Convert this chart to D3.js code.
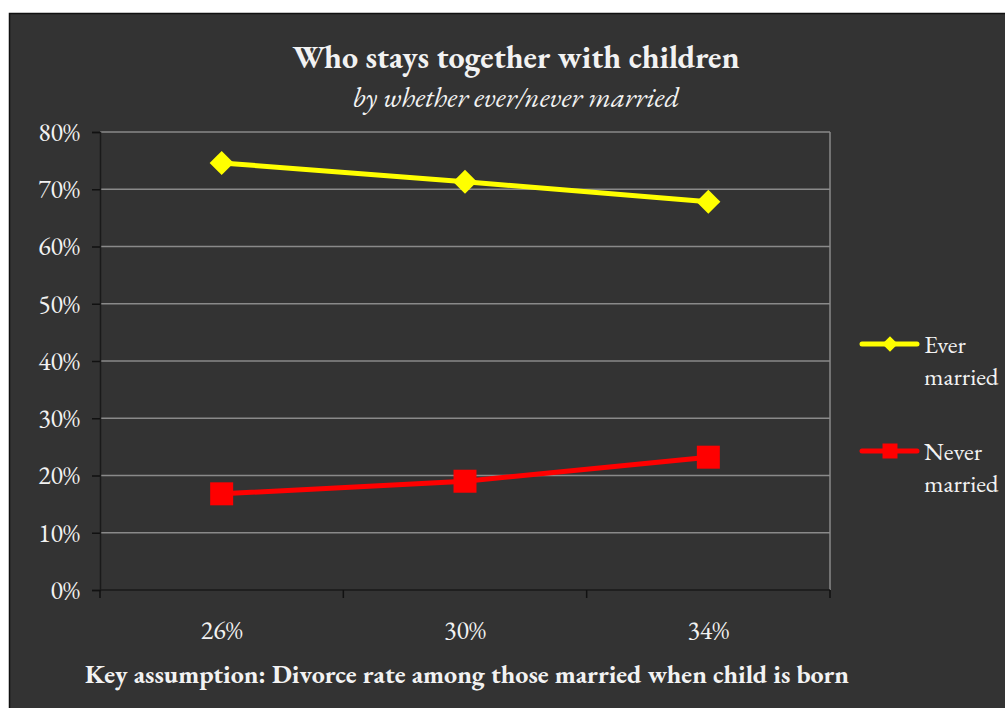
<!DOCTYPE html>
<html>
<head>
<meta charset="utf-8">
<script src="https://cdn.jsdelivr.net/npm/d3@7"></script>
<style>
  html, body { margin: 0; padding: 0; background: #ffffff; }
  svg { display: block; }
  text { font-family: Garamond, "EB Garamond", "Liberation Serif", "DejaVu Serif", serif; fill: #f2f2f2; }
</style>
</head>
<body>
<script>
// Divorce-rate assumptions along the x axis
const categories = ["26%", "30%", "34%"];
// Share staying together with children (percent)
const everMarried = [74.6, 71.3, 67.8];
const neverMarried = [16.8, 19.0, 23.2];
const yTicks = [0, 10, 20, 30, 40, 50, 60, 70, 80];
const seriesNames = [["Ever", "married"], ["Never", "married"]];

const W = 1005, H = 708;
const svg = d3.select("body").append("svg").attr("width", W).attr("height", H);

// Chart panel
svg.append("rect").attr("x", 9.5).attr("y", 13.5).attr("width", W).attr("height", H)
  .attr("fill", "#333333").attr("stroke", "#111111").attr("stroke-width", 1.5);

const plot = { left: 100, right: 830, top: 132, bottom: 590 };

const x = d3.scaleBand().domain(categories).range([plot.left, plot.right]);
const y = d3.scaleLinear().domain([0, 80]).range([plot.bottom, plot.top]);

// Horizontal gridlines
svg.append("g").selectAll("line").data(yTicks.filter(d => d > 0)).join("line")
  .attr("x1", plot.left).attr("x2", plot.right)
  .attr("y1", d => y(d)).attr("y2", d => y(d))
  .attr("stroke", "#8a8a8a").attr("stroke-width", 1.5);

// Right edge of plot area
svg.append("line").attr("x1", plot.right).attr("x2", plot.right)
  .attr("y1", plot.top).attr("y2", plot.bottom)
  .attr("stroke", "#8a8a8a").attr("stroke-width", 1.5);

// Y axis
const yAxis = d3.axisLeft(y).tickValues(yTicks).tickSize(8).tickPadding(12)
  .tickFormat(d => d + "%");
const gy = svg.append("g").attr("transform", `translate(${plot.left},0)`).call(yAxis);
gy.select(".domain").attr("stroke", "#1a1a1a").attr("stroke-width", 1.5);
gy.selectAll(".tick line").attr("stroke", "#111111").attr("stroke-width", 1.5);
gy.selectAll(".tick text").style("font-size", "26px").attr("fill", "#f2f2f2").attr("dy", "0.32em");

// X axis with tick marks on band edges
const gx = svg.append("g").attr("transform", `translate(0,${plot.bottom})`);
gx.append("line").attr("x1", plot.left).attr("x2", plot.right).attr("y1", 0).attr("y2", 0)
  .attr("stroke", "#1a1a1a").attr("stroke-width", 1.5);
const edges = categories.map(c => x(c)).concat([x(categories[categories.length - 1]) + x.bandwidth()]);
gx.selectAll("line.edge").data(edges).join("line").attr("class", "edge")
  .attr("x1", d => d).attr("x2", d => d).attr("y1", 0).attr("y2", 8)
  .attr("stroke", "#111111").attr("stroke-width", 1.5);
gx.selectAll("text").data(categories).join("text")
  .attr("x", d => x(d) + x.bandwidth() / 2).attr("y", 49)
  .attr("text-anchor", "middle").style("font-size", "26px").text(d => d);

const cx = c => x(c) + x.bandwidth() / 2;
const line = d3.line().x((d, i) => cx(categories[i])).y(d => y(d));

// Ever married series
svg.append("path").datum(everMarried).attr("d", line)
  .attr("fill", "none").attr("stroke", "#ffff00").attr("stroke-width", 5);
const diamond = d3.symbol().type(d3.symbolSquare).size(17 * 17);
svg.append("g").selectAll("path").data(everMarried).join("path")
  .attr("d", diamond)
  .attr("transform", (d, i) => `translate(${cx(categories[i])},${y(d)}) rotate(45)`)
  .attr("fill", "#ffff00");

// Never married series
svg.append("path").datum(neverMarried).attr("d", line)
  .attr("fill", "none").attr("stroke", "#ff0000").attr("stroke-width", 5);
const square = d3.symbol().type(d3.symbolSquare).size(23 * 23);
svg.append("g").selectAll("path").data(neverMarried).join("path")
  .attr("d", square)
  .attr("transform", (d, i) => `translate(${cx(categories[i])},${y(d)})`)
  .attr("fill", "#ff0000");

// Legend
const legend = svg.append("g");
const legendItems = [
  { name: seriesNames[0], color: "#ffff00", y: 344, sym: d3.symbol().type(d3.symbolSquare).size(11 * 11), rot: 45 },
  { name: seriesNames[1], color: "#ff0000", y: 451, sym: d3.symbol().type(d3.symbolSquare).size(15 * 15), rot: 0 }
];
legendItems.forEach(it => {
  legend.append("line").attr("x1", 862).attr("x2", 917).attr("y1", it.y).attr("y2", it.y)
    .attr("stroke", it.color).attr("stroke-width", 5).attr("stroke-linecap", "round");
  legend.append("path").attr("d", it.sym)
    .attr("transform", `translate(890,${it.y}) rotate(${it.rot})`).attr("fill", it.color);
  legend.append("text").attr("x", 924).attr("y", it.y + 9).style("font-size", "25px").text(it.name[0]);
  legend.append("text").attr("x", 924).attr("y", it.y + 41).style("font-size", "25px").text(it.name[1]);
});

// Titles
svg.append("text").attr("x", 516).attr("y", 68).attr("text-anchor", "middle")
  .style("font-size", "32px").style("font-weight", "bold").text("Who stays together with children");
svg.append("text").attr("x", 516).attr("y", 107).attr("text-anchor", "middle")
  .style("font-size", "29px").style("font-style", "italic").text("by whether ever/never married");
svg.append("text").attr("x", 467).attr("y", 683).attr("text-anchor", "middle")
  .style("font-size", "26px").style("font-weight", "bold")
  .text("Key assumption: Divorce rate among those married when child is born");
</script>
</body>
</html>
